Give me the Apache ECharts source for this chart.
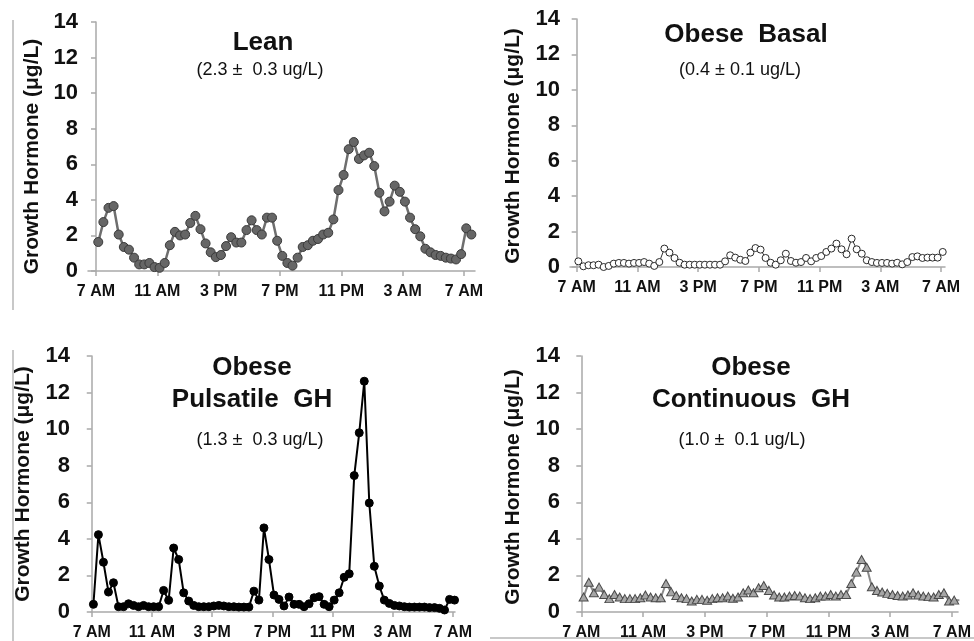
<!DOCTYPE html>
<html>
<head>
<meta charset="utf-8">
<script src="https://cdn.jsdelivr.net/npm/echarts@6/dist/echarts.min.js"></script>
<style>
html,body{margin:0;padding:0;background:#fff;}
#chart{width:974px;height:641px;}
</style>
</head>
<body>
<div id="chart"></div>
<script>
// ---- data (GH in ug/L, sampled every 20 min) ----
const tickHours = [0, 4, 8, 12, 16, 20, 24];
const tickLabels = ['7 AM', '11 AM', '3 PM', '7 PM', '11 PM', '3 AM', '7 AM'];

const leanStart = 0.15;
const lean = [1.63, 2.75, 3.55, 3.65, 2.05, 1.35, 1.2, 0.75, 0.37, 0.37,
  0.45, 0.22, 0.18, 0.45, 1.45, 2.2, 2.0, 2.05, 2.7, 3.1,
  2.35, 1.55, 1.05, 0.78, 0.9, 1.4, 1.9, 1.6, 1.6, 2.3,
  2.85, 2.3, 2.05, 3.0, 3.0, 1.7, 0.85, 0.45, 0.3, 0.75,
  1.35, 1.45, 1.7, 1.8, 2.05, 2.15, 2.9, 4.55, 5.4, 6.85,
  7.25, 6.3, 6.5, 6.65, 5.9, 4.4, 3.35, 3.9, 4.8, 4.45,
  3.9, 3.0, 2.35, 1.95, 1.25, 1.05, 0.9, 0.85, 0.75, 0.7,
  0.65, 0.95, 2.4, 2.05];

const basalStart = 0.11;
const basal = [0.32, 0.04, 0.1, 0.1, 0.13, 0.0, 0.06, 0.19, 0.23, 0.23,
  0.19, 0.23, 0.23, 0.28, 0.19, 0.06, 0.28, 1.04, 0.81, 0.51,
  0.24, 0.13, 0.13, 0.13, 0.13, 0.13, 0.13, 0.13, 0.13, 0.32,
  0.66, 0.53, 0.41, 0.34, 0.81, 1.07, 0.98, 0.51, 0.24, 0.13,
  0.38, 0.75, 0.34, 0.24, 0.28, 0.51, 0.32, 0.51, 0.62, 0.85,
  1.04, 1.32, 1.0, 0.72, 1.6, 1.0, 0.75, 0.38, 0.28, 0.23,
  0.23, 0.23, 0.19, 0.24, 0.15, 0.28, 0.56, 0.6, 0.51, 0.53,
  0.53, 0.53, 0.85];

const pulsStart = 0.11;
const pulsatile = [0.42, 4.23, 2.72, 1.09, 1.6, 0.29, 0.29, 0.45, 0.36, 0.29,
  0.36, 0.29, 0.29, 0.29, 1.18, 0.64, 3.5, 2.87, 1.05, 0.6,
  0.36, 0.29, 0.29, 0.29, 0.33, 0.36, 0.33, 0.29, 0.29, 0.27,
  0.27, 0.27, 1.14, 0.65, 4.6, 2.87, 0.93, 0.69, 0.33, 0.82,
  0.42, 0.42, 0.29, 0.45, 0.78, 0.84, 0.42, 0.29, 0.65, 1.05,
  1.9, 2.09, 7.46, 9.8, 12.62, 5.96, 2.5, 1.42, 0.65, 0.47,
  0.36, 0.33, 0.29, 0.27, 0.27, 0.27, 0.27, 0.24, 0.24, 0.2,
  0.11, 0.69, 0.65];

const contStart = 0.15;
const continuous = [0.82, 1.63, 1.05, 1.36, 0.96, 0.73, 0.96, 0.82, 0.73, 0.73,
  0.73, 0.78, 0.93, 0.82, 0.78, 0.78, 1.56, 1.1, 0.9, 0.78,
  0.73, 0.6, 0.69, 0.69, 0.64, 0.73, 0.78, 0.78, 0.87, 0.75,
  0.82, 1.05, 1.2, 1.05, 1.33, 1.45, 1.18, 0.93, 0.82, 0.82,
  0.87, 0.9, 0.87, 0.78, 0.73, 0.78, 0.87, 0.87, 0.96, 0.87,
  0.96, 0.96, 1.56, 2.18, 2.87, 2.45, 1.38, 1.18, 1.09, 1.02,
  0.96, 0.9, 0.87, 0.93, 1.05, 0.93, 0.87, 0.84, 0.82, 0.96,
  1.05, 0.6, 0.65, 0.64];

const panelTitles = ['Lean', 'Obese  Basal', 'Obese\nPulsatile  GH', 'Obese\nContinuous  GH'];
const panelSubs = ['(2.3 \u00b1  0.3 ug/L)', '(0.4 \u00b1 0.1 ug/L)', '(1.3 \u00b1  0.3 ug/L)', '(1.0 \u00b1  0.1 ug/L)'];
const yName = 'Growth Hormone (\u03bcg/L)';

// ---- build ----
const FONT = '"Liberation Sans", Arial, Helvetica, sans-serif';
const STEP = 1 / 3; // 20 minutes in hours
function pairs(start, vals) { return vals.map((v, i) => [start + i * STEP, v]); }

const layout = [
  { grid: { left: 88, top: 22, width: 387, height: 249 }, xmin: -0.52, xmax: 24.72, ymargin: 10, nameGap: 45, namePad: [0, 20, 0, 0] },
  { grid: { left: 570, top: 19, width: 375, height: 248 }, xmin: -0.44, xmax: 24.26, ymargin: 10, nameGap: 46, namePad: [0, 6, 0, 0] },
  { grid: { left: 91, top: 356, width: 364, height: 257 }, xmin: -0.05, xmax: 24.14, ymargin: 21, nameGap: 57, namePad: 0 },
  { grid: { left: 581, top: 356, width: 379, height: 257 }, xmin: -0.02, xmax: 24.4, ymargin: 21, nameGap: 57, namePad: [0, 6, 0, 0] }
];

const axisColor = '#a9a9a9';
const grids = [], xAxes = [], yAxes = [];
layout.forEach((L, i) => {
  grids.push(L.grid);
  xAxes.push({
    type: 'value', gridIndex: i, min: L.xmin, max: L.xmax,
    splitLine: { show: false },
    axisLine: { show: true, onZero: false, lineStyle: { color: axisColor, width: 1.5 } },
    axisTick: { show: true, customValues: tickHours, length: 5, lineStyle: { color: axisColor, width: 1.5 } },
    axisLabel: {
      customValues: tickHours, margin: 13,
      formatter: v => tickLabels[tickHours.indexOf(Math.round(v))] || '',
      fontFamily: FONT, fontWeight: 'bold', fontSize: 16, color: '#111'
    }
  });
  yAxes.push({
    type: 'value', gridIndex: i, min: 0, max: 14, interval: 2,
    splitLine: { show: false },
    axisLine: { show: true, lineStyle: { color: axisColor, width: 1.5 } },
    axisTick: { show: true, length: 5, lineStyle: { color: axisColor, width: 1.5 } },
    axisLabel: { margin: L.ymargin, fontFamily: FONT, fontWeight: 'bold', fontSize: 22, color: '#111' },
    name: yName, nameLocation: 'middle', nameGap: L.nameGap,
    nameTextStyle: { fontFamily: FONT, fontWeight: 'bold', fontSize: 21, color: '#111', padding: L.namePad }
  });
});

const titles = [
  { text: panelTitles[0], left: 263, top: 27 },
  { text: panelTitles[1], left: 746, top: 19 },
  { text: panelTitles[2], left: 252, top: 352 },
  { text: panelTitles[3], left: 751, top: 352 }
].map(t => ({ text: t.text, left: t.left, top: t.top, textAlign: 'center', padding: 0,
  textStyle: { fontFamily: FONT, fontWeight: 'bold', fontSize: 26, lineHeight: 32, color: '#111' } }));
const subs = [
  { left: 260, top: 61 }, { left: 740, top: 61 }, { left: 260, top: 431 }, { left: 742, top: 431 }
].map((s, i) => ({ text: panelSubs[i], left: s.left, top: s.top, textAlign: 'center', padding: 0,
  textStyle: { fontFamily: FONT, fontWeight: 'normal', fontSize: 18, lineHeight: 18, color: '#111' } }));

const series = [
  { name: 'Lean', type: 'line', xAxisIndex: 0, yAxisIndex: 0, data: pairs(leanStart, lean),
    symbol: 'circle', symbolSize: 9,
    lineStyle: { color: '#6e6e6e', width: 2.5 },
    itemStyle: { color: '#666666', borderColor: '#3a3a3a', borderWidth: 1 } },
  { name: 'Obese Basal', type: 'line', xAxisIndex: 1, yAxisIndex: 1, data: pairs(basalStart, basal),
    symbol: 'circle', symbolSize: 7,
    lineStyle: { color: '#333333', width: 1 },
    itemStyle: { color: '#ffffff', borderColor: '#2a2a2a', borderWidth: 1 } },
  { name: 'Obese Pulsatile GH', type: 'line', xAxisIndex: 2, yAxisIndex: 2, data: pairs(pulsStart, pulsatile),
    symbol: 'circle', symbolSize: 8,
    lineStyle: { color: '#000000', width: 2 },
    itemStyle: { color: '#000000', borderColor: '#000000', borderWidth: 1 } },
  { name: 'Obese Continuous GH', type: 'line', xAxisIndex: 3, yAxisIndex: 3, data: pairs(contStart, continuous),
    symbol: 'triangle', symbolSize: [9, 8],
    lineStyle: { color: '#8a8a8a', width: 2 },
    itemStyle: { color: '#a6a6a6', borderColor: '#4a4a4a', borderWidth: 1 } }
].map(s => Object.assign(s, { showSymbol: true, animation: false, z: 3 }));

const chart = echarts.init(document.getElementById('chart'), null, { renderer: 'canvas' });
chart.setOption({
  backgroundColor: '#ffffff',
  animation: false,
  title: titles.concat(subs),
  grid: grids,
  xAxis: xAxes,
  yAxis: yAxes,
  series: series,
  graphic: [
    { type: 'line', shape: { x1: 13, y1: 20, x2: 13, y2: 310 }, style: { stroke: '#c8c8c8', lineWidth: 2 } },
    { type: 'line', shape: { x1: 13, y1: 350, x2: 13, y2: 641 }, style: { stroke: '#c8c8c8', lineWidth: 2 } },
    { type: 'line', shape: { x1: 490, y1: 638, x2: 974, y2: 638 }, style: { stroke: '#c8c8c8', lineWidth: 2 } }
  ]
});
</script>
</body>
</html>
